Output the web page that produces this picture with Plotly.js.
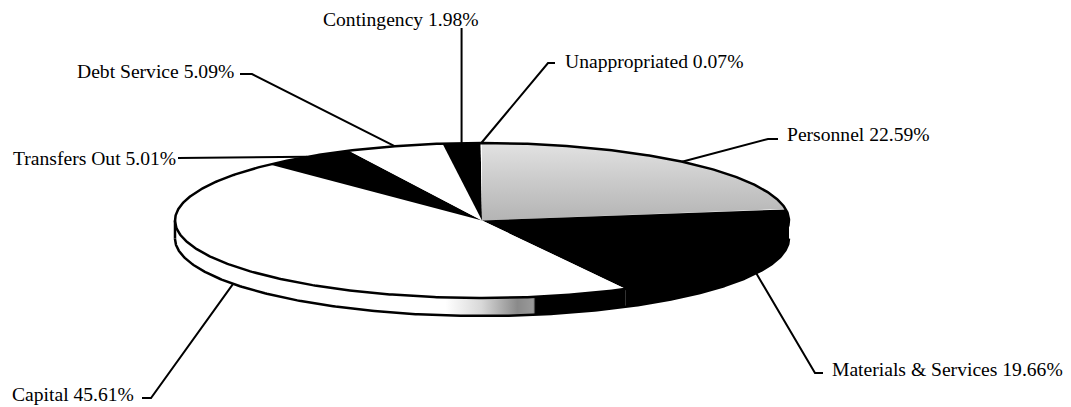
<!DOCTYPE html>
<html>
<head>
<meta charset="utf-8">
<script src="https://cdn.plot.ly/plotly-3.0.1.min.js"></script>
<style>html,body{margin:0;padding:0;background:#fff;}#chart{width:1071px;height:407px;}</style>
</head>
<body>
<div id="chart"></div>
<script>
// ---- data ----
const categories = ['Personnel', 'Materials & Services', 'Capital', 'Transfers Out', 'Debt Service', 'Contingency', 'Unappropriated'];
const shares = [22.59, 19.66, 45.61, 5.01, 5.09, 1.98, 0.07];

// ---- styles ----
const topColors = ['#c8c8c8', '#000000', '#ffffff', '#000000', '#ffffff', '#000000', '#ffffff'];
const stippled = [true, false, false, false, false, false, false];

// ---- geometry (pixel space of the plot) ----
const cx = 482, cy = 220.5, rx = 307, ry = 77.5, depth = 18;
const rad = d => d * Math.PI / 180;
const ex = t => cx + rx * Math.sin(rad(t));
const ey = t => cy - ry * Math.cos(rad(t));

// label placement (layout only)
const labelLayout = [
  {tx: 785, ty: 134, anchor: 'left',  elbow: [768, 139], stub: [778, 139]},
  {tx: 830, ty: 369, anchor: 'left',  elbow: [815, 373], stub: [823, 373]},
  {tx: 136, ty: 394, anchor: 'right', elbow: [151, 398], stub: [142, 398]},
  {tx: 178, ty: 158, anchor: 'right', elbow: null,       stub: [178, 158]},
  {tx: 236, ty: 71,  anchor: 'right', elbow: [252, 74],  stub: [240, 74]},
  {tx: 481, ty: 19,  anchor: 'right', elbow: null,       stub: 'vertical'},
  {tx: 563, ty: 61,  anchor: 'left',  elbow: [548, 63],  stub: [555, 63]}
];

const total = shares.reduce((a, b) => a + b, 0);
const starts = [], ends = [];
let acc = 0;
shares.forEach(v => { starts.push(acc / total * 360); acc += v; ends.push(acc / total * 360); });

function arc(t1, t2, dy) {
  const xs = [], ys = [];
  const n = Math.max(2, Math.ceil(Math.abs(t2 - t1) / 0.5));
  for (let i = 0; i <= n; i++) {
    const t = t1 + (t2 - t1) * i / n;
    xs.push(ex(t)); ys.push(ey(t) + dy);
  }
  return [xs, ys];
}

const traces = [];
// side walls (front half: 90..270)
shares.forEach((v, i) => {
  const a1 = Math.max(starts[i], 90), a2 = Math.min(ends[i], 270);
  if (a2 <= a1) return;
  const [tx, ty] = arc(a1, a2, 0);
  const [bx, by] = arc(a2, a1, depth);
  const tr = {
    x: tx.concat(bx, [tx[0]]), y: ty.concat(by, [ty[0]]),
    mode: 'lines', fill: 'toself', line: {width: 0, color: topColors[i]},
    fillcolor: topColors[i], hoverinfo: 'skip', showlegend: false
  };
  if (topColors[i] === '#ffffff') {
    tr.fillgradient = {type: 'horizontal', colorscale: [[0, '#ffffff'], [0.6, '#ffffff'], [0.68, '#d8d8d8'], [0.76, '#8a8a8a'], [0.795, '#9a9a9a'], [0.8, '#000000'], [1, '#000000']]};
  }
  traces.push(tr);
});
// top face slices
shares.forEach((v, i) => {
  const [ax, ay] = arc(starts[i], ends[i], 0);
  const tr = {
    x: [cx].concat(ax, [cx]), y: [cy].concat(ay, [cy]),
    mode: 'lines', fill: 'toself', line: {width: 0, color: topColors[i]},
    fillcolor: topColors[i], hoverinfo: 'skip', showlegend: false, name: categories[i]
  };
  if (stippled[i]) {
    tr.fillgradient = {type: 'vertical', colorscale: [[0, '#b4b4b4'], [0.5, '#cacaca'], [1, '#e2e2e2']]};
  }
  traces.push(tr);
});
// outlines
{
  const [ox, oy] = arc(0, 360, 0);
  traces.push({x: ox, y: oy, mode: 'lines', line: {color: '#000', width: 2.5}, hoverinfo: 'skip', showlegend: false});
  const [bx, by] = arc(90, 270, depth);
  traces.push({x: bx, y: by, mode: 'lines', line: {color: '#000', width: 2.5}, hoverinfo: 'skip', showlegend: false});
  traces.push({x: [ex(270), ex(270)], y: [ey(270), ey(270) + depth], mode: 'lines', line: {color: '#000', width: 2.5}, hoverinfo: 'skip', showlegend: false});
}
// leader lines + labels
const annotations = [];
shares.forEach((v, i) => {
  const mid = (starts[i] + ends[i]) / 2;
  const front = Math.cos(rad(mid)) < 0;
  const px = ex(mid), py = ey(mid) + (front ? depth : 0);
  const L = labelLayout[i];
  let xs, ys;
  if (L.stub === 'vertical') { xs = [px, px]; ys = [py, 28]; }
  else if (L.elbow) { xs = [px, L.elbow[0], L.stub[0]]; ys = [py, L.elbow[1], L.stub[1]]; }
  else { xs = [px, L.stub[0]]; ys = [py, L.stub[1]]; }
  traces.push({x: xs, y: ys, mode: 'lines', line: {color: '#000', width: 2}, hoverinfo: 'skip', showlegend: false});
  annotations.push({
    x: L.tx, y: L.ty, xref: 'x', yref: 'y', text: categories[i] + ' ' + shares[i].toFixed(2) + '%',
    showarrow: false, xanchor: L.anchor, yanchor: 'middle',
    font: {family: 'Liberation Serif, Times New Roman, serif', size: 19.6, color: '#000'}
  });
});

const layout = {
  width: 1071, height: 407,
  margin: {l: 0, r: 0, t: 0, b: 0},
  paper_bgcolor: '#fff', plot_bgcolor: '#fff',
  xaxis: {range: [0, 1071], visible: false, fixedrange: true},
  yaxis: {range: [407, 0], visible: false, fixedrange: true},
  showlegend: false,
  annotations: annotations
};
Plotly.newPlot('chart', traces, layout, {staticPlot: true, displayModeBar: false});
</script>
</body>
</html>
